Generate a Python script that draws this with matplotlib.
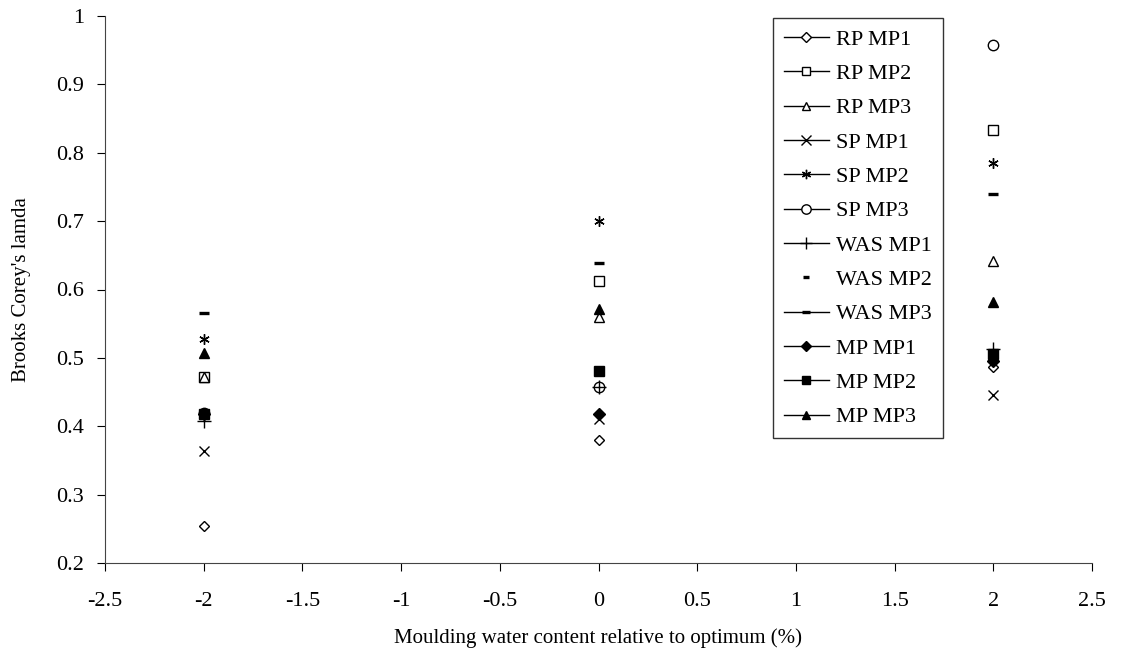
import numpy as np
import matplotlib.pyplot as plt
from matplotlib.lines import Line2D

plt.rcParams['font.family'] = ['Liberation Serif', 'DejaVu Serif']

x = [-2, 0, 2]

names = ['RP MP1', 'RP MP2', 'RP MP3', 'SP MP1', 'SP MP2', 'SP MP3',
         'WAS MP1', 'WAS MP2', 'WAS MP3', 'MP MP1', 'MP MP2', 'MP MP3']

rp_mp1 = [0.254, 0.380, 0.487]
rp_mp2 = [0.472, 0.612, 0.833]
rp_mp3 = [0.472, 0.560, 0.641]
sp_mp1 = [0.364, 0.411, 0.446]
sp_mp2 = [0.528, 0.700, 0.785]
sp_mp3 = [0.419, 0.457, 0.958]
was_mp1 = [0.408, 0.457, 0.513]
was_mp2 = [np.nan, np.nan, np.nan]
was_mp3 = [0.566, 0.639, 0.740]
mp_mp1 = [0.418, 0.418, 0.496]
mp_mp2 = [0.418, 0.481, 0.506]
mp_mp3 = [0.507, 0.572, 0.581]

values = [rp_mp1, rp_mp2, rp_mp3, sp_mp1, sp_mp2, sp_mp3,
          was_mp1, was_mp2, was_mp3, mp_mp1, mp_mp2, mp_mp3]

# marker, size, filled, line in legend
styles = [
    ('D', 5.5, False, True),
    ('s', 6.5, False, True),
    ('^', 7, False, True),
    ('x', 7.5, False, True),
    ((6, 2, 0), 7.5, False, True),
    ('o', 7.5, False, True),
    ('+', 10, False, True),
    ('_', 5, False, False),
    ('_', 7, False, True),
    ('D', 6, True, True),
    ('s', 6.5, True, True),
    ('^', 7, True, True),
]

fig = plt.figure(figsize=(11.3, 6.59), dpi=100)
ax = fig.add_axes([105 / 1130, 1 - 563 / 659, (1092 - 105) / 1130, (563 - 16) / 659])

handles = []
for name, vals, (m, ms, filled, line) in zip(names, values, styles):
    fc = 'black' if filled else 'white'
    mew = 2.4 if m == '_' else 1.0
    ax.plot(x, vals, ls='none', marker=m, markersize=ms, markerfacecolor=fc,
            markeredgecolor='black', markeredgewidth=mew, color='black', zorder=3)
    handles.append(Line2D([], [], ls='-' if line else 'none', lw=1.0, color='black',
                          marker=m, markersize=ms * 0.9, markerfacecolor=fc,
                          markeredgecolor='black', markeredgewidth=mew, label=name))

ax.set_xlim(-2.5, 2.5)
ax.set_ylim(0.2, 1.0)
ax.set_xticks(np.arange(-2.5, 2.51, 0.5))
ax.set_xticklabels(['-2.5', '-2', '-1.5', '-1', '-0.5', '0', '0.5', '1', '1.5', '2', '2.5'])
ax.set_yticks(np.arange(0.2, 1.01, 0.1))
ax.set_yticklabels(['0.2', '0.3', '0.4', '0.5', '0.6', '0.7', '0.8', '0.9', '1'])
ax.spines['top'].set_visible(False)
ax.spines['right'].set_visible(False)
ax.spines['left'].set_color('#444444')
ax.spines['bottom'].set_color('#444444')
ax.tick_params(direction='out', length=6, labelsize=16, colors='black')
ax.tick_params(axis='x', pad=15)
ax.tick_params(axis='y', pad=9)

ax.set_xlabel('Moulding water content relative to optimum (%)', fontsize=15, labelpad=12)
ax.set_ylabel("Brooks Corey's lamda", fontsize=15, labelpad=18)

leg = ax.legend(handles=handles, loc='upper left',
                bbox_to_anchor=(773 / 1130, 1 - 18 / 659), bbox_transform=fig.transFigure,
                borderaxespad=0, fontsize=16, frameon=True, fancybox=False,
                handlelength=2.0, handletextpad=0.35, labelspacing=0.62,
                borderpad=0.5)
leg.get_frame().set_edgecolor('black')
leg.get_frame().set_linewidth(1.0)

plt.savefig('out.png', dpi=100)
